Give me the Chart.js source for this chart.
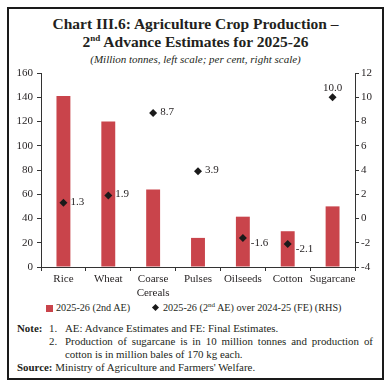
<!DOCTYPE html>
<html>
<head>
<meta charset="utf-8">
<script src="https://cdn.jsdelivr.net/npm/chart.js@4.4.1/dist/chart.umd.min.js"></script>
<style>
  html, body { margin:0; padding:0; background:#fff; }
  body { width:392px; height:388px; position:relative; overflow:hidden; font-family:"Liberation Serif", serif; color:#231f20; }
  #frame { position:absolute; left:7px; top:7px; width:377px; height:373px; box-sizing:border-box; border:2px solid #1a1a1a; }
  .title { position:absolute; left:7px; width:377px; text-align:center; font-weight:bold; font-size:15.5px; line-height:18px; }
  .sub { position:absolute; left:7px; width:377px; text-align:center; font-style:italic; font-size:11px; top:53px; }
  #cv { position:absolute; left:0; top:60px; }
  .leg { position:absolute; top:302px; font-size:10.2px; white-space:nowrap; line-height:12px; }
  .sq { position:absolute; left:46px; top:305px; width:7px; height:7px; background:#c9444b; }
  .dm { position:absolute; left:153px; top:305px; width:5px; height:5px; background:#1a1a1a; transform:rotate(45deg); }
  sup { font-size:7px; line-height:0; vertical-align:4px; }
  .note { position:absolute; font-size:10.9px; line-height:12.5px; white-space:nowrap; }
</style>
</head>
<body>
<div id="frame"></div>
<div class="title" style="top:15px">Chart III.6: Agriculture Crop Production –</div>
<div class="title" style="top:33px">2<sup style="font-size:9px;vertical-align:6px">nd</sup> Advance Estimates for 2025-26</div>
<div class="sub">(Million tonnes, left scale; per cent, right scale)</div>
<canvas id="cv" width="392" height="240" style="width:392px;height:240px"></canvas>
<div class="sq"></div>
<div class="leg" style="left:56px">2025-26 (2nd AE)</div>
<div class="dm"></div>
<div class="leg" style="left:163px">2025-26 (2<sup>nd</sup> AE) over 2024-25 (FE) (RHS)</div>
<div class="note" style="left:17px;top:322px;font-weight:bold">Note:</div>
<div class="note" style="left:49px;top:322px">1.</div>
<div class="note" style="left:65px;top:322px">AE: Advance Estimates and FE: Final Estimates.</div>
<div class="note" style="left:49px;top:335px">2.</div>
<div class="note" style="left:65px;top:335px;width:308px;text-align:justify;text-align-last:justify;white-space:normal">Production of sugarcane is in 10 million tonnes and production of</div>
<div class="note" style="left:65px;top:348px">cotton is in million bales of 170 kg each.</div>
<div class="note" style="left:17px;top:361px"><b>Source:</b> Ministry of Agriculture and Farmers' Welfare.</div>
<script>
const categories = ["Rice", "Wheat", ["Coarse", "Cereals"], "Pulses", "Oilseeds", "Cotton", "Sugarcane"];
const production = [141, 120, 64, 24, 41.5, 29.5, 50];
const growth = [1.3, 1.9, 8.7, 3.9, -1.6, -2.1, 10.0];
const leftTicks = [0, 20, 40, 60, 80, 100, 120, 140, 160];
const rightTicks = [-4, -2, 0, 2, 4, 6, 8, 10, 12];

const FONT = { family: "Liberation Serif", size: 11 };
const TXT = "#231f20";

const labelPlugin = {
  id: "pointLabels",
  afterDatasetsDraw(chart) {
    const meta = chart.getDatasetMeta(1);
    const ctx = chart.ctx;
    ctx.save();
    ctx.font = "11px 'Liberation Serif'";
    ctx.fillStyle = TXT;
    meta.data.forEach((pt, i) => {
      const v = growth[i];
      const txt = v.toFixed(1);
      if (v >= 10) {
        ctx.textAlign = "center"; ctx.textBaseline = "bottom";
        ctx.fillText(txt, pt.x, pt.y - 4);
      } else if (v < 0) {
        ctx.textAlign = "left"; ctx.textBaseline = "middle";
        ctx.fillText(txt, pt.x + 8, pt.y + 5);
      } else {
        ctx.textAlign = "left"; ctx.textBaseline = "middle";
        ctx.fillText(txt, pt.x + 7, pt.y - 1);
      }
    });
    ctx.restore();
  }
};

new Chart(document.getElementById("cv"), {
  data: {
    labels: categories,
    datasets: [
      { type: "bar", label: "2025-26 (2nd AE)", data: production, yAxisID: "y",
        backgroundColor: "#c9444b", barPercentage: 0.31, categoryPercentage: 1, order: 2 },
      { type: "line", label: "2025-26 (2nd AE) over 2024-25 (FE) (RHS)", data: growth, yAxisID: "y1",
        showLine: false, pointStyle: "rectRot", pointRadius: 4, pointHoverRadius: 4,
        backgroundColor: "#1a1a1a", borderColor: "#1a1a1a", borderWidth: 0, order: 1 }
    ]
  },
  options: {
    responsive: false,
    animation: false,
    events: [],
    layout: { padding: { top: 13, bottom: 0, left: 0, right: 0 } },
    plugins: { legend: { display: false }, tooltip: { enabled: false } },
    scales: {
      x: {
        offset: true,
        grid: { display: true, drawOnChartArea: false, drawTicks: true, tickLength: 4, color: "#333", offset: true },
        border: { display: true, color: "#333", width: 1 },
        ticks: { font: FONT, color: TXT, padding: 2, maxRotation: 0, autoSkip: false },
        afterFit(s) { s.height = 33; }
      },
      y: {
        position: "left", min: 0, max: 160,
        afterBuildTicks(s) { s.ticks = leftTicks.map(v => ({ value: v })); },
        grid: { display: true, drawOnChartArea: false, drawTicks: true, tickLength: 4, color: "#333" },
        border: { display: true, color: "#333", width: 1 },
        ticks: { font: FONT, color: TXT, padding: 4 },
        afterFit(s) { s.width = 41; }
      },
      y1: {
        position: "right", min: -4, max: 12,
        afterBuildTicks(s) { s.ticks = rightTicks.map(v => ({ value: v })); },
        grid: { display: true, drawOnChartArea: false, drawTicks: true, tickLength: 4, color: "#333" },
        border: { display: true, color: "#333", width: 1 },
        ticks: { font: FONT, color: TXT, padding: 2 },
        afterFit(s) { s.width = 37; }
      }
    }
  },
  plugins: [labelPlugin]
});
</script>
</body>
</html>
